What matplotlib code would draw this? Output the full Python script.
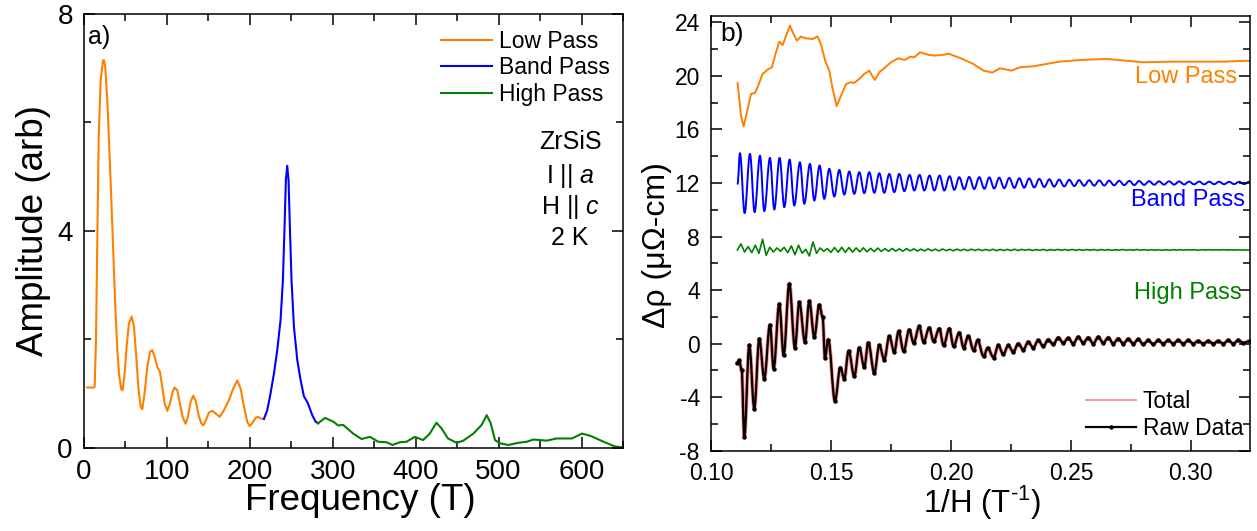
import matplotlib
matplotlib.use("Agg")
import matplotlib.pyplot as plt
import numpy as np
from matplotlib.ticker import MultipleLocator, FormatStrFormatter
from matplotlib.path import Path
from matplotlib.patches import PathPatch
from matplotlib.lines import Line2D

plt.rcParams["font.family"] = ["Liberation Sans", "DejaVu Sans"]
plt.rcParams["mathtext.fontset"] = "custom"
plt.rcParams["mathtext.rm"] = "Liberation Sans"
plt.rcParams["mathtext.it"] = "Liberation Sans:italic"
plt.rcParams["axes.unicode_minus"] = False

ORANGE = "#ff8000"
BLUE = "#0000ff"
GREEN = "#008000"

# ---------------- (a) FFT amplitude spectra of the three filter windows ----------------
low_f = [4.0, 12.1, 12.9, 14.5, 16.1, 17.7, 20.1, 22.9, 24.1, 25.7, 28.1, 30.5, 33.0, 35.4,
         37.8, 40.2, 42.6, 45.0, 46.6, 49.0, 51.4, 54.2, 57.5, 60.3, 63.1, 65.5, 68.3, 70.3,
         73.1, 76.4, 79.6, 82.4, 85.2, 88.4, 91.6, 94.4, 97.2, 100.5, 103.7, 106.9, 109.3,
         112.5, 115.7, 118.9, 122.6, 125.4, 128.6, 131.8, 135.0, 138.2, 141.5, 143.9, 147.1,
         150.7, 154.7, 158.7, 163.6, 168.8, 174.8, 180.0, 184.9, 188.9, 192.9, 196.9, 199.7,
         202.9, 207.0, 209.8, 213.0, 217.0]
low_amp = [1.11, 1.11, 1.13, 1.99, 3.83, 5.68, 6.78, 7.14, 7.15, 7.03, 6.41, 5.55, 4.57, 3.59,
           2.60, 1.80, 1.31, 1.08, 1.06, 1.37, 1.86, 2.29, 2.42, 2.23, 1.68, 1.13, 0.76, 0.71,
           1.00, 1.49, 1.77, 1.80, 1.68, 1.49, 1.40, 1.13, 0.82, 0.68, 0.82, 1.03, 1.11,
           1.06, 0.82, 0.57, 0.44, 0.57, 0.85, 0.96, 0.85, 0.60, 0.45, 0.41, 0.51,
           0.65, 0.68, 0.63, 0.57, 0.69, 0.88, 1.09, 1.24, 1.09, 0.76, 0.48, 0.40,
           0.45, 0.55, 0.57, 0.54, 0.53]

band_f = [217.0, 221.0, 225.0, 229.1, 233.1, 237.1, 239.9, 241.9, 243.5, 245.1, 246.7, 248.3,
          250.3, 253.2, 257.2, 261.2, 265.2, 270.0, 275.3, 279.3, 282.5]
band_amp = [0.53, 0.69, 1.00, 1.37, 1.80, 2.36, 3.09, 4.08, 4.94, 5.20, 4.94, 4.08,
            3.09, 2.23, 1.62, 1.25, 0.95, 0.82, 0.60, 0.48, 0.45]

high_f = [282.5, 290.6, 300.6, 306.6, 312.6, 324.7, 334.7, 344.8, 354.8, 364.9, 372.1, 380.9,
          389.0, 399.0, 409.0, 417.0, 425.0, 431.0, 439.0, 449.5, 457.5, 469.6, 479.6, 485.7,
          490.5, 495.7, 501.8, 511.8, 523.9, 534.0, 542.0, 558.0, 570.0, 588.5, 600.5, 610.5,
          626.6, 640.7, 648.8]
high_amp = [0.45, 0.55, 0.48, 0.41, 0.42, 0.26, 0.16, 0.20, 0.11, 0.10, 0.05, 0.10,
            0.11, 0.20, 0.14, 0.26, 0.46, 0.36, 0.17, 0.09, 0.13, 0.26, 0.42, 0.60,
            0.45, 0.14, 0.08, 0.05, 0.09, 0.11, 0.15, 0.13, 0.17, 0.17, 0.26, 0.22,
            0.11, 0.02, 0.01]

# ---------------- (b) filtered oscillations versus inverse field ----------------
lp_x = [0.1111, 0.1125, 0.1136, 0.1150, 0.1167, 0.1183, 0.1194, 0.1215, 0.1236, 0.1254,
        0.1271, 0.1285, 0.1299, 0.1313, 0.1329, 0.1344, 0.1358, 0.1375, 0.1396, 0.1424,
        0.1444, 0.1458, 0.1476, 0.1493, 0.1507, 0.1524, 0.1542, 0.1563, 0.1583, 0.1597,
        0.1618, 0.1639, 0.1660, 0.1671, 0.1683, 0.1701, 0.1722, 0.1750, 0.1781, 0.1806,
        0.1831, 0.1847, 0.1872, 0.1903, 0.1931, 0.1965, 0.1991, 0.2038, 0.2093, 0.2135,
        0.2172, 0.2204, 0.2253, 0.2288, 0.2343, 0.2399, 0.2454, 0.2538, 0.2649, 0.2732,
        0.2801, 0.2926, 0.3065, 0.3135, 0.3246]
lp_rho = [19.48, 17.04, 16.22, 17.29, 18.66, 18.73, 19.15, 20.15, 20.47, 20.65,
          21.77, 22.56, 22.31, 23.01, 23.76, 23.13, 22.64, 22.94, 22.81, 22.76,
          22.96, 22.39, 21.14, 20.40, 19.03, 17.74, 18.53, 19.40, 19.53, 19.48,
          19.78, 20.15, 20.40, 20.02, 19.70, 20.27, 20.57, 21.02, 21.32, 21.19,
          21.44, 21.39, 21.77, 21.59, 21.52, 21.57, 21.66, 21.34, 20.90, 20.40,
          20.25, 20.57, 20.40, 20.65, 20.72, 20.90, 21.07, 21.19, 21.27, 21.14,
          21.02, 21.07, 21.07, 21.07, 21.14]

# band-pass signal: successive maxima and minima of the oscillation
bp_x = [0.1111, 0.11208, 0.11403, 0.11625, 0.11819, 0.12042, 0.12222, 0.12458, 0.12639,
        0.12861, 0.13056, 0.13278, 0.13472, 0.13708, 0.13889, 0.14125, 0.14306, 0.14528,
        0.14722, 0.14931, 0.15139, 0.15347, 0.15556, 0.15764, 0.15972, 0.16181, 0.16389,
        0.16597, 0.16806, 0.17014, 0.17222, 0.17431, 0.17639, 0.17847, 0.18056, 0.18278,
        0.18472, 0.18694, 0.18889, 0.19111, 0.19306, 0.19528, 0.19722, 0.19944, 0.20139,
        0.20347, 0.2055, 0.2076, 0.2097, 0.2118, 0.2139, 0.2160, 0.2180, 0.2201, 0.2222,
        0.2243, 0.2264, 0.2285, 0.2305, 0.2326, 0.2347, 0.2368, 0.2389, 0.2410, 0.2430,
        0.2451, 0.2472, 0.2493, 0.2514, 0.2534, 0.2555, 0.2576, 0.2597, 0.2618, 0.2639,
        0.2659, 0.2680, 0.2701, 0.2722, 0.2743, 0.2764, 0.2784, 0.2805, 0.2826, 0.2847,
        0.2867, 0.2888, 0.2909, 0.2930, 0.2951, 0.2972, 0.2992, 0.3013, 0.3034, 0.3055,
        0.3076, 0.3097, 0.3117, 0.3138, 0.3159, 0.3180, 0.3201, 0.3222, 0.3242]
bp_rho = [11.94, 14.23, 9.75, 14.18, 9.82, 14.05, 9.90, 13.88, 10.02,
          13.88, 10.20, 13.75, 10.32, 13.55, 10.45, 13.43, 10.69, 13.31,
          10.82, 13.06, 10.99, 12.98, 11.14, 12.86, 11.19, 12.81, 11.24,
          12.81, 11.27, 12.73, 11.27, 12.68, 11.32, 12.68, 11.39, 12.61,
          11.44, 12.61, 11.44, 12.56, 11.44, 12.56, 11.44, 12.51, 11.49,
          12.44, 11.53, 12.46, 11.55, 12.44, 11.57, 12.42, 11.59, 12.40, 11.61,
          12.38, 11.63, 12.36, 11.65, 12.34, 11.67, 12.31, 11.70, 12.28, 11.73,
          12.26, 11.75, 12.24, 11.77, 12.22, 11.79, 12.21, 11.80, 12.20, 11.81,
          12.18, 11.83, 12.17, 11.84, 12.16, 11.85, 12.15, 11.86, 12.14, 11.87,
          12.13, 11.88, 12.13, 11.88, 12.12, 11.89, 12.11, 11.90, 12.11, 11.90,
          12.10, 11.91, 12.10, 11.91, 12.09, 11.92, 12.09, 11.92, 12.09]

# high-pass signal sampled on a uniform 1/H grid
hp_rho = [7.00, 7.45, 6.85, 7.25, 6.80, 7.35, 6.75, 7.80, 6.60, 7.20,
          6.85, 7.15, 6.90, 7.20, 6.80, 7.30, 6.65, 7.35, 6.75, 7.05,
          6.55, 7.60, 6.75, 7.15, 6.90, 7.10, 6.82, 7.18, 6.83, 7.20,
          6.82, 7.18, 6.84, 7.15, 6.86, 7.16, 6.86, 7.12, 6.88, 7.14,
          6.89, 7.10, 6.90, 7.11, 6.91, 7.08, 6.90, 7.10, 6.93, 7.08,
          6.92, 7.06, 6.93, 7.08, 6.94, 7.06, 6.93, 7.07, 6.95, 7.05,
          6.94, 7.06, 6.95, 7.05, 6.95, 7.06, 6.96, 7.05, 6.95, 7.04,
          6.96, 7.05, 6.95, 7.04, 6.96, 7.04, 6.96, 7.05, 6.96, 7.04,
          6.97, 7.04, 6.96, 7.03, 6.97, 7.04, 6.96, 7.03, 6.97, 7.04,
          6.97, 7.03, 6.97, 7.04, 6.97, 7.03, 6.97, 7.03, 6.98, 7.03,
          6.97, 7.03, 6.98, 7.03, 6.97, 7.02, 6.98, 7.03, 6.98, 7.02,
          6.98, 7.03, 6.98, 7.02, 6.98, 7.02, 6.98, 7.02, 6.98, 7.02,
          6.98, 7.02, 6.99, 7.02, 6.98, 7.02, 6.99, 7.02, 6.98, 7.02,
          6.99, 7.02, 6.99, 7.01, 6.99, 7.02, 6.99, 7.01, 6.99, 7.01,
          6.99, 7.01, 6.99]
hp_x = np.linspace(0.1110, 0.3240, len(hp_rho))

raw_x = [0.11083, 0.11181, 0.11278, 0.11389, 0.11597, 0.11806, 0.12014, 0.12222, 0.12458,
         0.12611, 0.12847, 0.13028, 0.13264, 0.13500, 0.13681, 0.13917, 0.14097, 0.14306,
         0.14514, 0.14653, 0.14750, 0.14889, 0.15167, 0.15389, 0.15556, 0.15736, 0.15972,
         0.16181, 0.16389, 0.16556, 0.16806, 0.17014, 0.17222, 0.17431, 0.17639, 0.17819,
         0.18028, 0.18264, 0.18444, 0.18681, 0.18861, 0.19097, 0.19278, 0.19514, 0.19694,
         0.19931, 0.20111, 0.20347, 0.20528, 0.20722, 0.20944, 0.21111, 0.21361, 0.21528,
         0.21778, 0.21972, 0.22181, 0.22389, 0.22597, 0.22806, 0.23014, 0.23222, 0.23431,
         0.23639, 0.23847, 0.24056, 0.24264, 0.24472, 0.24681, 0.24889, 0.25097, 0.25306,
         0.25514, 0.25722, 0.25931, 0.26139, 0.26347, 0.26556, 0.26764, 0.26972, 0.27181,
         0.27389, 0.27597, 0.27806, 0.28014, 0.28222, 0.28431, 0.28639, 0.28847, 0.29056,
         0.29264, 0.29472, 0.29681, 0.29889, 0.30097, 0.30306, 0.30514, 0.30722, 0.30931,
         0.31139, 0.31347, 0.31556, 0.31764, 0.31972, 0.32181, 0.32458]
raw_rho = [-1.45, -1.25, -1.99, -6.97, -0.13, -4.85, 0.37, -2.61, 1.41,
           -1.87, 2.98, -0.87, 4.48, -0.30, 3.11, 0.12, 3.18, 0.50,
           2.91, 1.99, -1.05, 0.30, -4.28, -1.79, -2.61, -0.55, -2.44,
           -0.30, -1.74, 0.07, -2.19, -0.13, -1.19, 0.55, -0.62, 0.92,
           -0.57, 1.04, 0.05, 1.29, 0.12, 1.19, 0.17, 1.12, -0.13,
           1.12, -0.20, 0.82, -0.30, 0.57, -0.50, 0.25, -0.95, -0.32,
           -1.04, -0.13, -0.80, -0.13, -0.62, 0.00, -0.45, 0.12, -0.30,
           0.25, -0.20, 0.30, -0.05, 0.45, 0.05, 0.42, 0.00, 0.50,
           0.05, 0.45, 0.00, 0.50, 0.05, 0.45, 0.00, 0.37, 0.00,
           0.35, 0.00, 0.32, -0.05, 0.25, -0.05, 0.25, 0.00, 0.25,
           0.00, 0.25, 0.00, 0.25, 0.00, 0.20, 0.00, 0.20, 0.00,
           0.20, 0.00, 0.25, 0.00, 0.25, 0.05, 0.20]
# sum of the three filtered components, indistinguishable from the measured curve
total_x = list(raw_x)
total_rho = list(raw_rho)


def smooth_path(xs, ys, k=0.36):
    """Cubic Bezier path through the given extrema with flat tangents at each node."""
    verts = [(xs[0], ys[0])]
    codes = [Path.MOVETO]
    for i in range(len(xs) - 1):
        dx = xs[i + 1] - xs[i]
        verts += [(xs[i] + k * dx, ys[i]), (xs[i + 1] - k * dx, ys[i + 1]),
                  (xs[i + 1], ys[i + 1])]
        codes += [Path.CURVE4] * 3
    return Path(verts, codes)


def add_curve(ax, xs, ys, **kw):
    patch = PathPatch(smooth_path(xs, ys), facecolor="none", capstyle="round",
                      joinstyle="round", **kw)
    ax.add_patch(patch)
    return patch


fig = plt.figure(figsize=(12.57, 5.31), dpi=100)
axa = fig.add_axes([0.0668, 0.1569, 0.4288, 0.8168])
axb = fig.add_axes([0.5656, 0.1512, 0.4288, 0.8192])


def style_axes(ax, labelsize, pad):
    for s in ax.spines.values():
        s.set_linewidth(1.1)
    ax.tick_params(which="both", direction="in", top=True, right=True,
                   width=1.1, labelsize=labelsize, pad=pad)
    ax.tick_params(which="major", length=8)
    ax.tick_params(which="minor", length=5)


# panel (a)
axa.plot(low_f, low_amp, color=ORANGE, lw=1.5, label="Low Pass")
axa.plot(band_f, band_amp, color=BLUE, lw=1.5, label="Band Pass")
axa.plot(high_f, high_amp, color=GREEN, lw=1.5, label="High Pass")
axa.set_xlim(0, 650)
axa.set_ylim(0, 8)
axa.xaxis.set_major_locator(MultipleLocator(100))
axa.xaxis.set_minor_locator(MultipleLocator(50))
axa.yaxis.set_major_locator(MultipleLocator(4))
axa.yaxis.set_minor_locator(MultipleLocator(2))
style_axes(axa, 20, 8)
axa.set_xlabel("Frequency (T)", fontsize=26.5)
axa.set_ylabel("Amplitude (arb)", fontsize=26.5)
axa.xaxis.set_label_coords(0.512, -0.082)
axa.yaxis.set_label_coords(-0.062, 0.5)
axa.legend(loc="upper right", bbox_to_anchor=(0.975, 0.963), frameon=False,
           fontsize=16.5, handlelength=2.2, handletextpad=0.3, labelspacing=0.15,
           borderpad=0, borderaxespad=0)
axa.text(0.007, 0.975, "a)", transform=axa.transAxes, fontsize=18, va="top", ha="left")
for txt, yy in [("ZrSiS", 0.705), ("I || $\\it{a}$", 0.627),
                ("H || $\\it{c}$", 0.555), ("2 K", 0.484)]:
    axa.text(0.902, yy, txt, transform=axa.transAxes, fontsize=18, ha="center", va="center")

# panel (b)
axb.plot(lp_x, lp_rho, color=ORANGE, lw=1.4)
add_curve(axb, bp_x, bp_rho, edgecolor=BLUE, lw=1.4)
axb.plot(hp_x, hp_rho, color=GREEN, lw=1.2)
add_curve(axb, total_x, total_rho, edgecolor="#ff0000", alpha=0.45, lw=2.8)
add_curve(axb, raw_x, raw_rho, edgecolor="black", lw=1.6)
axb.plot(raw_x, raw_rho, ls="none", color="black", marker="o", ms=2.2)
axb.set_xlim(0.1, 0.3246)
axb.set_ylim(-8, 24.5)
axb.xaxis.set_major_locator(MultipleLocator(0.05))
axb.xaxis.set_minor_locator(MultipleLocator(0.025))
axb.yaxis.set_major_locator(MultipleLocator(4))
axb.yaxis.set_minor_locator(MultipleLocator(2))
axb.xaxis.set_major_formatter(FormatStrFormatter("%.2f"))
style_axes(axb, 16.5, 8)
axb.set_xlabel("1/H (T$^{\\text{-1}}$)", fontsize=22.5)
axb.set_ylabel("Δρ (μΩ-cm)", fontsize=23)
axb.xaxis.set_label_coords(0.503, -0.075)
axb.yaxis.set_label_coords(-0.072, 0.473)
handles = [Line2D([], [], color="#ff0000", alpha=0.4, lw=1.4),
           Line2D([], [], color="black", lw=1.6, marker="o", ms=2.2)]
axb.legend(handles, ["Total", "Raw Data"], loc="lower right", bbox_to_anchor=(0.988, 0.025),
           frameon=False, fontsize=16.5, handlelength=2.2, handletextpad=0.3,
           labelspacing=0.15, borderpad=0, borderaxespad=0, numpoints=1)
axb.text(0.017, 0.986, "b)", transform=axb.transAxes, fontsize=19, va="top", ha="left")
axb.text(0.9765, 19.9, "Low Pass", transform=axb.get_yaxis_transform(), color=ORANGE,
         fontsize=17, ha="right", va="center")
axb.text(0.990, 10.7, "Band Pass", transform=axb.get_yaxis_transform(), color=BLUE,
         fontsize=17, ha="right", va="center")
axb.text(0.985, 3.75, "High Pass", transform=axb.get_yaxis_transform(), color=GREEN,
         fontsize=17, ha="right", va="center")

fig.savefig("out.png", dpi=100)
